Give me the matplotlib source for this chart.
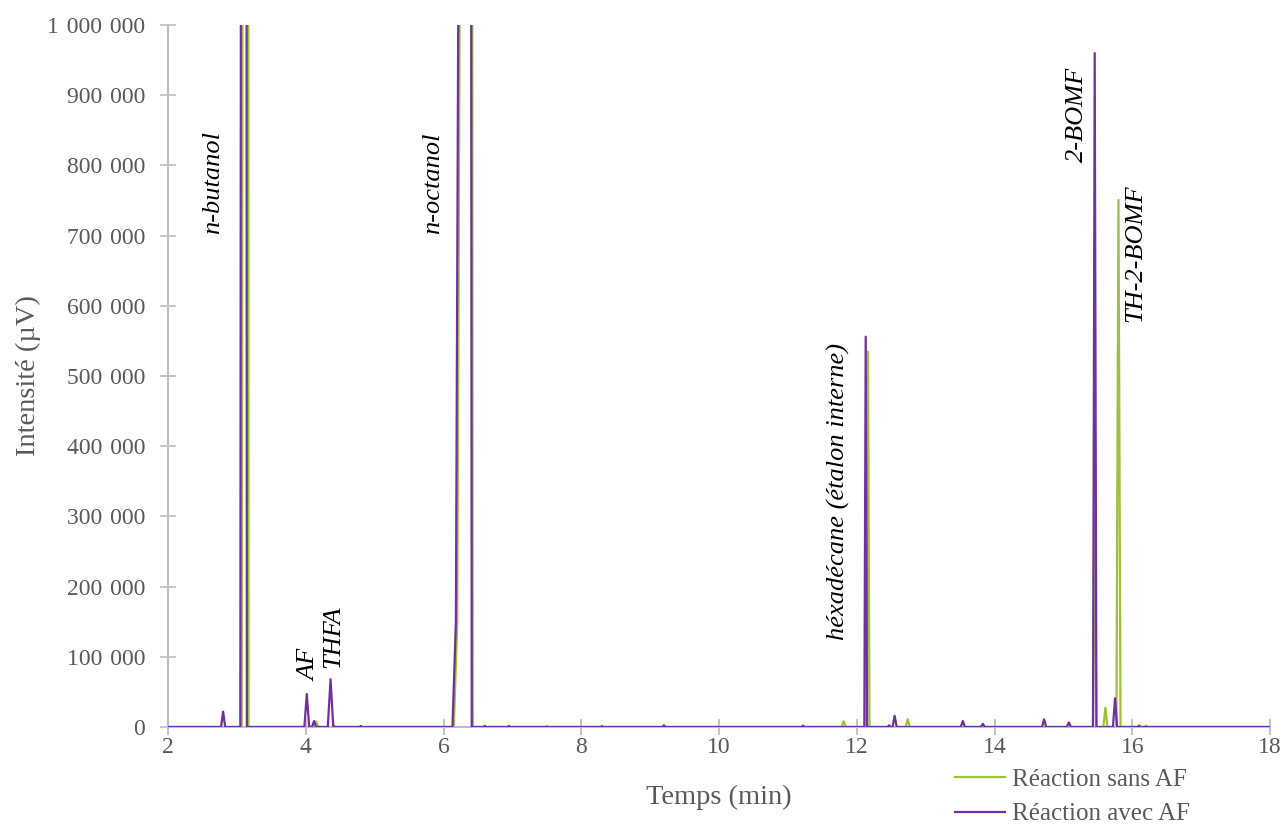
import matplotlib
matplotlib.use("Agg")
import matplotlib.pyplot as plt
from matplotlib.ticker import FuncFormatter, MultipleLocator

# ---------------- data ----------------
# Réaction sans AF : (time in min, intensity in µV) vertices
sans_t = [2.0, 3.07, 3.085, 3.165, 3.17, 4.12, 4.15, 4.18, 4.38, 4.40, 4.42,
          6.15, 6.20, 6.245, 6.415, 6.425, 7.48, 7.50, 7.52,
          11.78, 11.81, 11.84, 12.14, 12.163, 12.185, 12.71, 12.74, 12.77,
          15.43, 15.455, 15.48, 15.58, 15.61, 15.64, 15.77, 15.80, 15.83,
          16.18, 16.20, 16.22, 18.0]
sans_i = [0, 0, 1300000, 1300000, 0, 0, 8000, 0, 0, 3000, 0,
          0, 150000, 1300000, 1300000, 0, 0, 1500, 0,
          0, 8000, 0, 0, 534600, 0, 0, 11000, 0,
          0, 300000, 0, 0, 27500, 0, 0, 750700, 0,
          0, 2000, 0, 0]

# Réaction avec AF
avec_t = [2.0, 2.77, 2.80, 2.83, 3.05, 3.06, 3.14, 3.145, 3.98, 4.015, 4.05,
          4.09, 4.12, 4.15, 4.32, 4.36, 4.40, 4.78, 4.80, 4.82,
          6.13, 6.18, 6.225, 6.40, 6.41, 6.58, 6.60, 6.62, 6.93, 6.95, 6.97,
          8.28, 8.30, 8.32, 9.18, 9.20, 9.22, 11.20, 11.22, 11.24,
          12.11, 12.13, 12.15, 12.45, 12.47, 12.49, 12.52, 12.55, 12.58,
          13.51, 13.54, 13.57, 13.80, 13.83, 13.86, 14.69, 14.72, 14.75,
          15.05, 15.08, 15.11, 15.43, 15.455, 15.48, 15.72, 15.75, 15.78,
          16.08, 16.10, 16.12, 18.0]
avec_i = [0, 0, 22000, 0, 0, 1300000, 1300000, 0, 0, 47000, 0,
          0, 8500, 0, 0, 68000, 0, 0, 1500, 0,
          0, 150000, 1300000, 1300000, 0, 0, 1500, 0, 0, 1500, 0,
          0, 1200, 0, 0, 2500, 0, 0, 2000, 0,
          0, 556000, 0, 0, 2500, 0, 0, 16000, 0,
          0, 8500, 0, 0, 4500, 0, 0, 11000, 0,
          0, 6500, 0, 0, 960000, 0, 0, 41000, 0,
          0, 2000, 0, 0]

series_labels = ["Réaction sans AF", "Réaction avec AF"]

# peak annotations: (label, time, intensity centre)
peak_labels = ["n-butanol", "AF", "THFA", "n-octanol",
               "héxadécane (étalon interne)", "2-BOMF", "TH-2-BOMF"]
peak_label_t = [2.65, 4.05, 4.40, 5.85, 11.73, 15.20, 16.04]
peak_label_i = [775000, 89000, 128000, 775000, 336000, 872000, 675000]

x_ticks = [2, 4, 6, 8, 10, 12, 14, 16, 18]
y_max = 1000000

# ---------------- style ----------------
GREEN = "#9DC13B"
PURPLE = "#7030A0"
GRAY_TXT = "#595959"
GRAY_AX = "#BFBFBF"
FONT = "Liberation Serif"
FS_TICK = 17
FS_TITLE = 20.5
FS_LEG = 18
FS_PEAK = 19

plt.rcParams["font.family"] = [FONT, "DejaVu Serif"]

fig = plt.figure(figsize=(12.84, 8.27), dpi=100)
ax = fig.add_axes([168 / 1284, 1 - 727 / 827, 1102 / 1284, 702 / 827])

ax.plot(sans_t, sans_i, color=GREEN, lw=1.6, label=series_labels[0], zorder=2)
ax.plot(avec_t, avec_i, color=PURPLE, lw=1.6, label=series_labels[1], zorder=3)

ax.set_xlim(2, 18)
ax.set_ylim(0, y_max)
ax.set_xticks(x_ticks)
ax.yaxis.set_major_locator(MultipleLocator(100000))
ax.yaxis.set_major_formatter(
    FuncFormatter(lambda v, p: f"{int(round(v)):,}".replace(",", "\u2004")))

for s in ["top", "right"]:
    ax.spines[s].set_visible(False)
for s in ["left", "bottom"]:
    ax.spines[s].set_color(GRAY_AX)
    ax.spines[s].set_linewidth(1.5)
ax.tick_params(axis="both", direction="inout", length=11, width=1.3, color=GRAY_AX,
               labelcolor=GRAY_TXT, labelsize=FS_TICK)
ax.tick_params(axis="y", pad=11)
ax.tick_params(axis="x", pad=2)

ax.set_xlabel("Temps (min)", fontsize=FS_TITLE, color=GRAY_TXT, labelpad=19)
ax.set_ylabel("Intensité (µV)", fontsize=FS_TITLE, color=GRAY_TXT, labelpad=4)

for lab, t, yv in zip(peak_labels, peak_label_t, peak_label_i):
    ax.text(t, yv, lab, rotation=90, ha="center", va="center", fontsize=FS_PEAK,
            style="italic", color="black")

leg = fig.legend(loc="upper left", bbox_to_anchor=(955 / 1284, 1 - 768 / 827),
                 frameon=False, fontsize=FS_LEG, handlelength=2.0, handletextpad=0.3,
                 labelspacing=0.5, borderaxespad=0, borderpad=0)
for txt in leg.get_texts():
    txt.set_color(GRAY_TXT)

fig.savefig("out.png", dpi=100)
